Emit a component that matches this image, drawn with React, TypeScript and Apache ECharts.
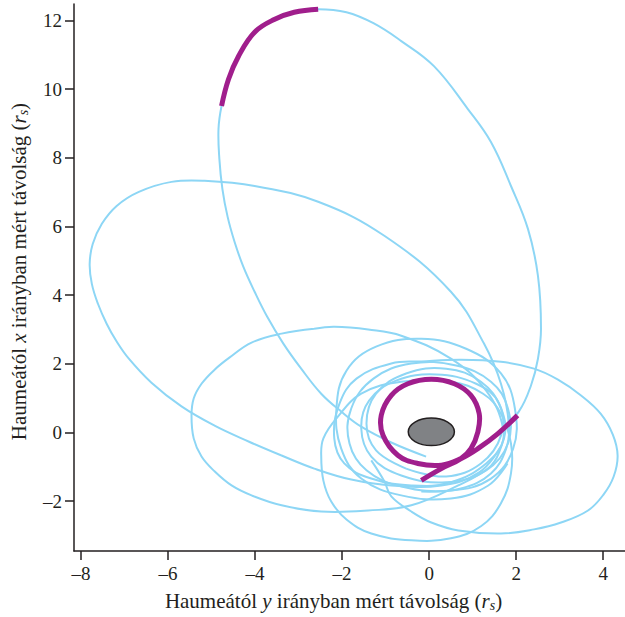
import React, { useEffect, useRef } from 'react';
import * as echarts from 'echarts';

const xTicks = [-8, -6, -4, -2, 0, 2, 4];
const yTicks = [-2, 0, 2, 4, 6, 8, 10, 12];
const xRange = [-8.16, 4.5];
const yRange = [-3.45, 12.48];

const tallOrbit = [[-0.07,-0.70],[-0.87,-0.29],[-1.56,0.17],[-2.02,0.61],[-2.48,1.13],[-2.94,1.86],[-3.35,2.59],[-3.72,3.37],[-4.01,4.10],[-4.27,4.83],[-4.47,5.55],[-4.63,6.28],[-4.75,7.09],[-4.82,7.97],[-4.84,8.84],[-4.77,9.51],[-4.61,10.29],[-4.38,10.96],[-4.01,11.66],[-3.56,12.03],[-3.10,12.24],[-2.55,12.33],[-1.90,12.24],[-1.28,11.92],[-0.64,11.40],[0.11,10.67],[0.89,9.42],[1.42,8.46],[1.88,7.18],[2.27,5.93],[2.50,4.56],[2.57,3.02],[2.50,2.15],[2.34,1.37],[2.06,0.61],[1.58,-0.03],[1.12,-0.47],[0.73,-0.76],[0.28,-1.05],[-0.18,-1.39]];

const wideOrbit = [[-0.18,-1.72],[0.73,-1.63],[1.42,-1.19],[1.77,-0.47],[1.83,0.26],[1.65,1.42],[1.26,2.59],[0.50,4.10],[-1.03,5.73],[-2.55,6.72],[-4.01,7.18],[-5.16,7.33],[-5.92,7.30],[-6.67,7.01],[-7.18,6.60],[-7.52,6.08],[-7.73,5.49],[-7.80,4.91],[-7.75,4.33],[-7.61,3.75],[-7.41,3.17],[-7.18,2.65],[-6.90,2.15],[-6.38,1.45],[-5.69,0.76],[-4.93,0.20],[-4.15,-0.26],[-3.39,-0.67],[-2.64,-1.05],[-1.79,-1.37],[-0.87,-1.54],[0.28,-1.54],[1.15,-1.16],[1.65,-0.41]];

const rightOrbit = [[-1.33,-0.81],[-1.03,-1.42],[-0.87,-1.86],[-0.41,-2.30],[0.05,-2.62],[0.67,-2.85],[1.65,-2.94],[2.41,-2.82],[3.03,-2.62],[3.65,-2.27],[4.01,-1.80],[4.24,-1.28],[4.33,-0.67],[4.22,-0.06],[3.94,0.55],[3.49,1.08],[2.96,1.54],[2.41,1.86],[1.65,2.06],[0.73,2.12],[-0.18,2.07],[-0.87,2.01],[-1.67,1.57],[-2.06,0.84],[-2.18,-0.17],[-1.95,-0.90],[-1.33,-1.34],[-0.41,-1.54],[0.50,-1.45],[1.31,-0.90],[1.72,-0.17],[1.65,0.70],[1.19,1.48],[0.39,1.86],[-0.53,1.72],[-1.22,1.13],[-1.44,0.26],[-1.22,-0.52],[-0.53,-1.05]];

const innerSpiral = [[-0.53,-1.05],[0.39,-1.28],[1.19,-0.90],[1.65,-0.09],[1.61,0.84],[1.08,1.42],[0.16,1.69],[-0.76,1.51],[-1.38,0.93],[-1.56,0.12],[-1.33,-0.70],[-0.64,-1.25],[0.39,-1.45],[1.31,-1.10],[1.81,-0.32],[1.81,0.70],[1.42,1.48],[0.62,1.95],[-0.41,2.01],[-1.28,1.57],[-1.79,0.70],[-1.83,-0.32],[-1.44,-1.10],[-0.64,-1.57],[0.50,-1.69],[1.42,-1.34],[1.93,-0.47],[1.97,0.70],[1.65,1.72],[0.85,2.44],[-0.18,2.73],[-1.22,2.50],[-1.90,1.80],[-2.13,0.70],[-2.02,-0.47],[-1.56,-1.34],[-0.64,-1.83],[0.50,-1.92],[1.35,-1.55],[1.80,-0.90]];

const leftOrbit = [[-2.64,3.02],[-2.18,3.08],[-1.40,3.00],[-0.64,2.82],[0.50,2.15],[1.31,1.22],[1.70,0.12],[1.60,-0.60],[1.35,-1.05],[0.67,-1.54],[-0.41,-2.12],[-1.40,-2.27],[-2.48,-2.30],[-3.39,-2.12],[-4.08,-1.83],[-4.54,-1.54],[-4.93,-1.13],[-5.23,-0.70],[-5.41,-0.17],[-5.46,0.49],[-5.41,0.99],[-5.23,1.42],[-4.93,1.83],[-4.59,2.18],[-4.08,2.62],[-3.39,2.88],[-2.64,3.02]];

const lowerOrbit = [[-2.48,-0.67],[-2.43,-1.40],[-2.25,-2.01],[-1.90,-2.53],[-1.33,-2.94],[-0.41,-3.14],[0.50,-3.08],[1.19,-2.73],[1.65,-2.06],[1.88,-1.19],[1.88,-0.32],[1.65,0.55],[1.24,1.13],[0.50,1.48],[-0.64,1.48],[-1.56,1.13],[-2.13,0.41],[-2.43,-0.17],[-2.48,-0.67]];

const highlightTop = [[-4.77,9.51],[-4.61,10.29],[-4.38,10.96],[-4.01,11.66],[-3.56,12.03],[-3.10,12.24],[-2.55,12.33]];

const highlightCore = [[2.03,0.50],[1.58,-0.03],[1.12,-0.47],[0.73,-0.76],[0.28,-0.95],[-0.26,-0.90],[-0.72,-0.66],[-1.06,-0.08],[-1.10,0.50],[-0.87,1.08],[-0.49,1.42],[0.05,1.55],[0.58,1.42],[0.96,1.08],[1.15,0.55],[1.12,0.02],[0.96,-0.47],[0.73,-0.76],[0.28,-1.05],[-0.18,-1.39]];

// center x, center y, semi-axis x, semi-axis y
const haumea = [[0.05, 0.02, 0.53, 0.40]];

const FONT = '"Liberation Serif", "DejaVu Serif", serif';
const INK = '#231f20';
const BLUE = '#8dd6f5';
const MAGENTA = '#a01e8c';

const fmt = (v: number) => (v < 0 ? '\u2013' + Math.abs(v) : String(v));

const curve = (pts: number[][], color: string, width: number, z: number) => ({
  type: 'custom',
  data: pts,
  z,
  silent: true,
  encode: { x: 0, y: 1 },
  renderItem: (params: any, api: any) => {
    if (params.dataIndex !== 0) return null;
    const points = pts.map((p) => api.coord(p));
    return {
      type: 'polyline',
      shape: { points, smooth: 0.4 },
      style: { stroke: color, lineWidth: width, fill: 'none', lineCap: 'butt', lineJoin: 'round' },
    };
  },
});

const richName = {
  i: { fontFamily: FONT, fontStyle: 'italic', fontSize: 21, color: INK },
  s: { fontFamily: FONT, fontStyle: 'italic', fontSize: 14, color: INK, padding: [9, 0, 0, 0] },
};

export default function App() {
  const ref = useRef<HTMLDivElement>(null);
  useEffect(() => {
    if (!ref.current) return;
    const chart = echarts.init(ref.current, null, { renderer: 'svg' });
    chart.setOption({
      animation: false,
      backgroundColor: '#ffffff',
      grid: { left: 73, right: 0, top: 4, bottom: 65, containLabel: false },
      xAxis: {
        type: 'value', min: xRange[0], max: xRange[1],
        splitLine: { show: false },
        axisLine: { onZero: false, lineStyle: { color: INK, width: 1.5 } },
        axisTick: { show: true, length: 9, customValues: xTicks, lineStyle: { color: INK, width: 1.5 } },
        axisLabel: { customValues: xTicks, formatter: fmt, fontFamily: FONT, fontSize: 19, color: INK, margin: 13 },
        name: 'Haumeától {i|y} irányban mért távolság ({i|r}{s|s})',
        nameLocation: 'middle', nameGap: 38,
        nameTextStyle: { fontFamily: FONT, fontSize: 21, color: INK, rich: richName, padding: [0, 32, 0, 0] },
      },
      yAxis: {
        type: 'value', min: yRange[0], max: yRange[1],
        splitLine: { show: false },
        axisLine: { onZero: false, lineStyle: { color: INK, width: 1.5 } },
        axisTick: { show: true, length: 9, customValues: yTicks, lineStyle: { color: INK, width: 1.5 } },
        axisLabel: { customValues: yTicks, formatter: fmt, fontFamily: FONT, fontSize: 19, color: INK, margin: 12 },
        name: 'Haumeától {i|x} irányban mért távolság ({i|r}{s|s})',
        nameLocation: 'middle', nameGap: 44,
        nameTextStyle: { fontFamily: FONT, fontSize: 21, color: INK, rich: richName, padding: [0, 0, 0, 12] },
      },
      series: [
        curve(leftOrbit, BLUE, 2, 2),
        curve(lowerOrbit, BLUE, 2, 2),
        curve(wideOrbit, BLUE, 2, 2),
        curve(rightOrbit, BLUE, 2, 2),
        curve(innerSpiral, BLUE, 2, 2),
        curve(tallOrbit, BLUE, 2, 2),
        curve(highlightTop, MAGENTA, 5, 3),
        curve(highlightCore, MAGENTA, 5, 3),
        {
          type: 'custom', data: haumea, z: 5, silent: true,
          encode: { x: 0, y: 1 },
          renderItem: (params: any, api: any) => {
            const c = api.coord([api.value(0), api.value(1)]);
            const s = api.size([api.value(2), api.value(3)]);
            return {
              type: 'ellipse',
              shape: { cx: c[0], cy: c[1], rx: s[0], ry: s[1] },
              style: { fill: '#808285', stroke: INK, lineWidth: 1.5 },
            };
          },
        },
      ],
    });
    return () => chart.dispose();
  }, []);
  return <div ref={ref} style={{ position: 'fixed', left: 0, top: 0, width: 625, height: 617 }} />;
}
